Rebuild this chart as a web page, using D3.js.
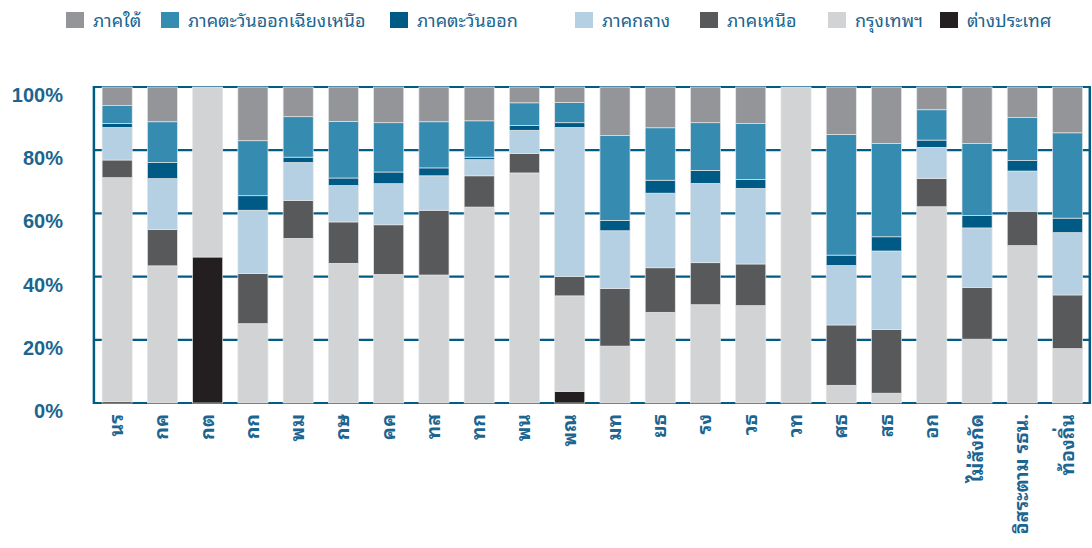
<!DOCTYPE html>
<html>
<head>
<meta charset="utf-8">
<script src="https://cdn.jsdelivr.net/npm/d3@7"></script>
<style>
  body { margin: 0; background: #fff; }
  svg { display: block; }
</style>
</head>
<body>
<svg id="chart" width="1092" height="548"></svg>
<script>
// categories (ministries)
const categories = ["นร", "กค", "กต", "กก", "พม", "กษ", "คค", "ทส", "ทก", "พน", "พณ",
  "มท", "ยธ", "รง", "วธ", "วท", "ศธ", "สธ", "อก", "ไม่สังกัด", "อิสระตาม รธน.", "ท้องถิ่น"];

// share (%) per region, bottom of stack first
const foreign   = [0.5, 0, 46.2, 0, 0, 0, 0, 0, 0, 0, 3.7, 0, 0, 0.3, 0, 0.3, 0, 0, 0, 0, 0, 0];
const bangkok   = [70.8, 43.4, 53.8, 25.1, 52.1, 44.2, 40.7, 40.5, 62.0, 72.8, 30.2, 18.0, 28.7, 30.8, 30.8, 99.7, 5.6, 3.1, 62.1, 20.2, 49.8, 17.2];
const north     = [5.6, 11.5, 0, 15.9, 12.0, 13.1, 15.7, 20.5, 9.9, 6.2, 6.1, 18.2, 14.1, 13.3, 13.2, 0, 19.1, 20.2, 9.0, 16.4, 10.9, 17.0];
const central   = [10.3, 16.1, 0, 20.0, 12.0, 11.5, 13.0, 10.9, 5.1, 7.3, 47.2, 18.3, 23.6, 25.1, 23.9, 0, 18.8, 24.8, 9.8, 18.8, 12.7, 19.7];
const east      = [1.2, 5.1, 0, 4.6, 1.7, 2.4, 3.7, 2.5, 0.8, 1.5, 1.5, 3.3, 4.1, 4.1, 2.8, 0, 3.3, 4.5, 2.3, 3.9, 3.3, 4.6];
const northeast = [5.7, 12.9, 0, 17.4, 12.8, 17.9, 15.6, 14.6, 11.5, 7.2, 6.4, 26.8, 16.6, 15.1, 17.7, 0, 38.2, 29.5, 9.6, 22.8, 13.6, 27.0];
const south     = [5.9, 11.0, 0, 17.0, 9.4, 10.9, 11.3, 11.0, 10.7, 5.0, 4.9, 15.4, 12.9, 11.3, 11.6, 0, 15.0, 17.9, 7.2, 17.9, 9.7, 14.5];

const seriesNames = ["ต่างประเทศ", "กรุงเทพฯ", "ภาคเหนือ", "ภาคกลาง", "ภาคตะวันออก", "ภาคตะวันออกเฉียงเหนือ", "ภาคใต้"];
const seriesValues = [foreign, bangkok, north, central, east, northeast, south];
const seriesColors = ["#231f20", "#d1d3d4", "#58595b", "#b5d0e2", "#005a86", "#368bb1", "#939598"];

const yTicks = [0, 20, 40, 60, 80, 100];

// legend reads top of stack first
const legendOrder = ["ภาคใต้", "ภาคตะวันออกเฉียงเหนือ", "ภาคตะวันออก", "ภาคกลาง", "ภาคเหนือ", "กรุงเทพฯ", "ต่างประเทศ"];
const legendX = [66, 161, 390, 575, 700, 828, 940];

const blue = "#005b85";
const textBlue = "#1b6590";
const thaiFont = "'Noto Sans Thai Looped', 'Loma', 'Garuda', 'Noto Sans Thai', 'Noto Sans', 'DejaVu Sans', sans-serif";

const rows = categories.map((c, i) => {
  const r = { cat: c };
  seriesNames.forEach((s, k) => { r[s] = seriesValues[k][i]; });
  return r;
});

const svg = d3.select("#chart");
const plotLeft = 94.4, plotRight = 1090.3, plotTop = 87, plotBottom = 403;

const x = d3.scaleBand().domain(categories).range([plotLeft, plotRight]).paddingInner(0.335).paddingOuter(0.17);
const y = d3.scaleLinear().domain([0, 100]).range([plotBottom, plotTop]);
const color = d3.scaleOrdinal().domain(seriesNames).range(seriesColors);

// gridlines
svg.append("g")
  .selectAll("line")
  .data(yTicks)
  .join("line")
  .attr("x1", plotLeft - 1)
  .attr("x2", plotRight)
  .attr("y1", d => y(d))
  .attr("y2", d => y(d))
  .attr("stroke", blue)
  .attr("stroke-width", 2.2);

// frame sides
svg.append("line").attr("x1", plotLeft - 0.5).attr("x2", plotLeft - 0.5).attr("y1", plotTop - 1).attr("y2", plotBottom + 1)
  .attr("stroke", blue).attr("stroke-width", 2.5);
svg.append("line").attr("x1", plotRight - 0.5).attr("x2", plotRight - 0.5).attr("y1", plotTop - 1).attr("y2", plotBottom + 1)
  .attr("stroke", blue).attr("stroke-width", 2.5);

// stacked bars
const stacked = d3.stack().keys(seriesNames)(rows);

svg.append("g")
  .selectAll("g")
  .data(stacked)
  .join("g")
  .attr("fill", d => color(d.key))
  .selectAll("rect")
  .data(d => d.filter(p => p[1] - p[0] > 0))
  .join("rect")
  .attr("x", d => x(d.data.cat))
  .attr("width", x.bandwidth())
  .attr("y", d => y(d[1]))
  .attr("height", d => y(d[0]) - y(d[1]))
  .attr("stroke", "#e6e7e8")
  .attr("stroke-width", 0.7);

// y tick labels
svg.append("g")
  .selectAll("text")
  .data(yTicks)
  .join("text")
  .attr("x", 63)
  .attr("y", d => y(d) + 15)
  .attr("text-anchor", "end")
  .attr("font-family", "'Liberation Sans', Arial, sans-serif")
  .attr("font-weight", "bold")
  .attr("font-size", 20)
  .attr("fill", textBlue)
  .text(d => d + "%");

// x labels, rotated
svg.append("g")
  .selectAll("text")
  .data(categories)
  .join("text")
  .attr("transform", d => `translate(${x(d) + x.bandwidth() / 2 + 6},414) rotate(-90)`)
  .attr("text-anchor", "end")
  .attr("font-family", thaiFont)
  .attr("font-weight", "bold")
  .attr("font-size", 19.5)
  .attr("fill", textBlue)
  .text(d => d);

// legend
const legend = svg.append("g")
  .selectAll("g")
  .data(legendOrder)
  .join("g")
  .attr("transform", (d, i) => `translate(${legendX[i]},12)`);

legend.append("rect")
  .attr("width", 18)
  .attr("height", 16)
  .attr("fill", d => color(d));

legend.append("text")
  .attr("x", 27)
  .attr("y", 15)
  .attr("font-family", thaiFont)
  .attr("font-size", 18)
  .attr("fill", textBlue)
  .text(d => d);
</script>
</body>
</html>
